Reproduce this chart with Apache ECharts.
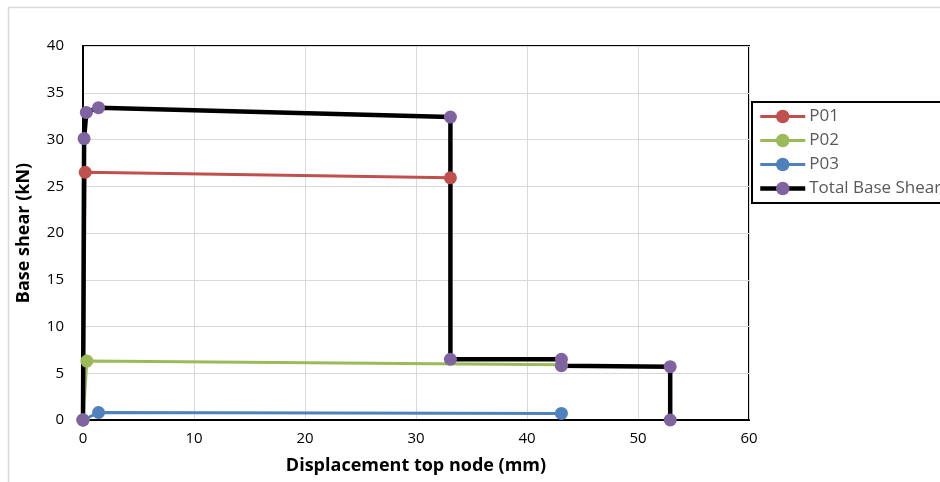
<!DOCTYPE html>
<html><head><meta charset="utf-8">
<script src="https://cdn.jsdelivr.net/npm/echarts@6/dist/echarts.min.js"></script>
<style>html,body{margin:0;padding:0;background:#fff}#c{width:940px;height:482px}</style>
</head><body><div id="c"></div>
<script>
const seriesNames = ['P01', 'P02', 'P03', 'Total Base Shear'];
const p01 = [[0, 0], [0.2, 26.5], [33.1, 25.9]];
const p02 = [[0, 0], [0.35, 6.3], [43.1, 5.9]];
const p03 = [[0, 0], [1.4, 0.8], [43.1, 0.7]];
const total = [[0, 0], [0.1, 30.1], [0.3, 32.9], [1.4, 33.4], [33.1, 32.4], [33.1, 6.5], [43.1, 6.5], [43.1, 5.8], [52.9, 5.7], [52.9, 0]];
const xTicks = [0, 10, 20, 30, 40, 50, 60];
const yTicks = [0, 5, 10, 15, 20, 25, 30, 35, 40];

const FONT = '"Open Sans", sans-serif';
const chart = echarts.init(document.getElementById('c'), null, {renderer: 'canvas'});
const colors = ['#C0504D', '#9BBB59', '#4F81BD', '#000'];
const marks = ['#C0504D', '#9BBB59', '#4F81BD', '#8064A2'];
const widths = [3, 3, 3, 4.5];
function mk(i, data) {
  return {
    name: seriesNames[i], type: 'line', data, symbol: 'circle', symbolSize: 13,
    lineStyle: {color: colors[i], width: widths[i]},
    itemStyle: {color: marks[i], borderWidth: 0},
    animation: false, z: 2
  };
}
chart.setOption({
  animation: false,
  textStyle: {fontFamily: FONT},
  graphic: [{type: 'rect', shape: {x: 8.5, y: 7.5, width: 1000, height: 1000}, style: {fill: 'none', stroke: '#d9d9d9', lineWidth: 1.5}, z: -10}],
  grid: {left: 83, right: 191, top: 46, bottom: 62, show: true, borderColor: '#000', borderWidth: 2, backgroundColor: 'transparent'},
  xAxis: {
    type: 'value', min: xTicks[0], max: xTicks[xTicks.length - 1], interval: 10,
    name: 'Displacement top node (mm)', nameLocation: 'middle', nameGap: 37,
    nameTextStyle: {fontFamily: FONT, fontWeight: 'bold', fontSize: 18, color: '#000'},
    axisLine: {show: true, lineStyle: {color: '#000', width: 2}},
    axisTick: {show: false},
    axisLabel: {fontFamily: FONT, fontSize: 15, color: '#000', margin: 11},
    splitLine: {show: true, lineStyle: {color: '#d9d9d9', width: 1}}
  },
  yAxis: {
    type: 'value', min: yTicks[0], max: yTicks[yTicks.length - 1], interval: 5,
    name: 'Base shear (kN)', nameLocation: 'middle', nameGap: 50,
    nameTextStyle: {fontFamily: FONT, fontWeight: 'bold', fontSize: 18, color: '#000'},
    axisLine: {show: true, lineStyle: {color: '#000', width: 2}},
    axisTick: {show: false},
    axisLabel: {fontFamily: FONT, fontSize: 15, color: '#000', margin: 19},
    splitLine: {show: true, lineStyle: {color: '#d9d9d9', width: 1}}
  },
  legend: {
    orient: 'vertical', left: 752, top: 102,
    data: seriesNames.map((n, i) => ({name: n, lineStyle: {width: widths[i]}})),
    borderColor: '#000', borderWidth: 2, backgroundColor: '#fff',
    padding: [6, 200, 6, 6], itemGap: 7, itemWidth: 45, itemHeight: 17,
    textStyle: {fontFamily: FONT, fontSize: 17, color: '#595959', lineHeight: 17, padding: [0, 0, 0, -1]}
  },
  series: [mk(0, p01), mk(1, p02), mk(2, p03), mk(3, total)]
});
</script></body></html>
